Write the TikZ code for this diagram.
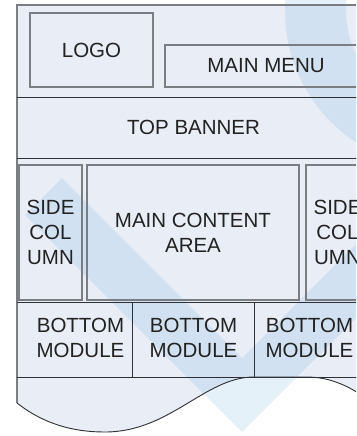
\documentclass[tikz,border=0pt]{standalone}
\usepackage{fontspec}
\setmainfont{Liberation Sans}
\usetikzlibrary{positioning}
\definecolor{WFpage}{HTML}{E8EDF6}
\definecolor{WFbox}{HTML}{7A7D82}
\definecolor{WFline}{HTML}{2E3033}
\definecolor{WFmark}{HTML}{4A9AD6}
\definecolor{WFtext}{HTML}{222222}

\begin{document}
\begin{tikzpicture}[x=1pt,y=-1pt,
  every node/.style={font=\fontsize{20.5}{25}\selectfont, text=WFtext, align=center, inner sep=0pt},
  panel/.style={draw=WFbox, line width=1.2pt}]
\useasboundingbox (0,0) rectangle (356,436);
\clip (0,0) rectangle (356,436);

% Page
\fill[WFpage] (17,5) -- (380,5) -- (380,408) .. controls (350,385) and (330,377) .. (306,377) -- (254,377) .. controls (205,377) and (170,432) .. (105,432) .. controls (75,432) and (45,425) .. (17,403) -- cycle;

% Watermark
\fill[WFmark, opacity=0.14] (62,178) -- (242,358) -- (400,200) -- (437,237) -- (242,432) -- (25,215) -- cycle;
\fill[WFmark, opacity=0.14, even odd rule] (442,11) circle[radius=157pt] (442,11) circle[radius=96pt];

\draw[WFbox, line width=1.5pt] (17,403) -- (17,5) -- (380,5);
\draw[WFline, line width=0.9pt] (380,408) .. controls (350,385) and (330,377) .. (306,377) -- (254,377) .. controls (205,377) and (170,432) .. (105,432) .. controls (75,432) and (45,425) .. (17,403);

% Header
\node[panel, minimum width=123pt, minimum height=74pt] (logo) at (91.5,50) {LOGO};
\node[panel, minimum width=202pt, minimum height=42pt] (menu) at (266,66) {MAIN MENU};
\draw[WFline, line width=0.9pt] (17,97) -- (380,97);
\node (banner) at (193.5,127.5) {TOP BANNER};
\draw[WFline, line width=0.9pt] (17,158) -- (380,158);

% Columns
\node[panel, minimum width=63pt, minimum height=135pt] (sideL) at (50.5,232.5) {SIDE\\COL\\UMN};
\node[panel, minimum width=212pt, minimum height=135pt] (content) at (193,232.5) {MAIN CONTENT\\AREA};
\node[panel, minimum width=63pt, minimum height=135pt] (sideR) at (337.5,232.5) {SIDE\\COL\\UMN};

% Bottom modules
\draw[WFline, line width=0.9pt] (17,302) -- (380,302);
\draw[WFline, line width=0.9pt] (17,377) -- (380,377);
\draw[WFline, line width=0.9pt] (132,302) -- (132,377);
\draw[WFline, line width=0.9pt] (254,302) -- (254,377);
\node (modA) at (80.5,338) {BOTTOM\\MODULE};
\node (modB) at (193.5,338) {BOTTOM\\MODULE};
\node (modC) at (309.5,338) {BOTTOM\\MODULE};

\end{tikzpicture}
\end{document}
